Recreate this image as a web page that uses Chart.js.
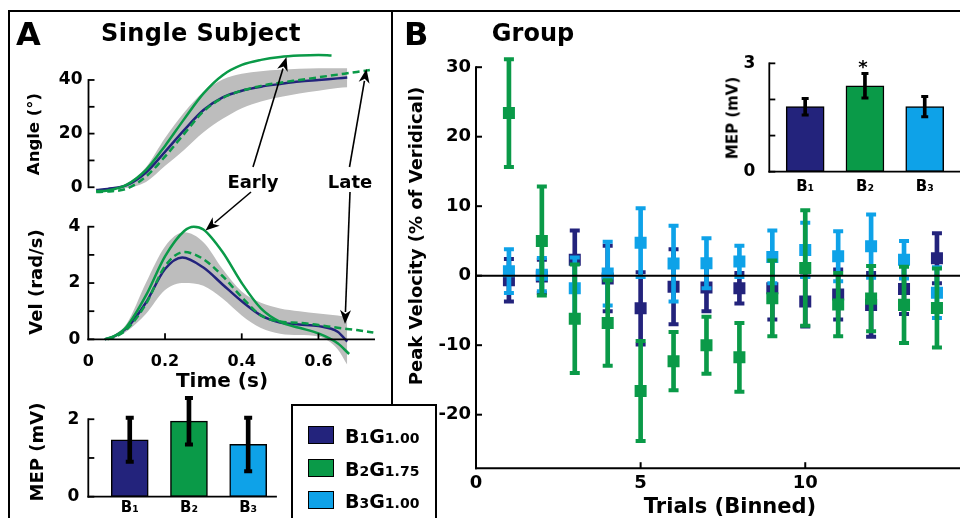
<!DOCTYPE html>
<html>
<head>
<meta charset="utf-8">
<script src="https://cdn.jsdelivr.net/npm/chart.js@4.4.1/dist/chart.umd.min.js"></script>
<style>
  html, body { margin: 0; padding: 0; background: #fff; }
  #fig { position: relative; width: 960px; height: 518px; overflow: hidden;
         font-family: "DejaVu Sans", sans-serif; font-weight: bold; color: #000; }
  canvas { position: absolute; }
  .txt { position: absolute; white-space: nowrap; line-height: 1; z-index: 5; }
  .rot { transform: translate(-50%, -50%) rotate(-90deg); }
  .ctr { transform: translate(-50%, -50%); }
  .hc  { transform: translateX(-50%); }
  .ln  { position: absolute; background: #000; z-index: 4; }
  #legendBox { position: absolute; left: 291px; top: 404px; width: 146px; height: 130px;
               border: 2px solid #000; box-sizing: border-box; background: #fff; z-index: 3; }
  .sw { position: absolute; width: 26px; height: 18px; border: 1.5px solid #000; box-sizing: border-box; z-index: 6; }
  .lt { position: absolute; white-space: nowrap; line-height: 19px; z-index: 6; }
  .lt .big { font-size: 19px; }
  .lt .sm { font-size: 14px; }
  #arrows { position: absolute; left: 0; top: 0; z-index: 7; }
</style>
</head>
<body>
<div id="fig">
  <canvas id="cAngle" width="390" height="160" style="left:0;top:40px"></canvas>
  <canvas id="cVel" width="390" height="175" style="left:0;top:200px"></canvas>
  <canvas id="cMepA" width="290" height="128" style="left:0;top:390px"></canvas>
  <canvas id="cGroup" width="568" height="478" style="left:392px;top:40px"></canvas>
  <canvas id="cMepB" width="280" height="170" style="left:680px;top:30px"></canvas>

  <div class="ln" style="left:8px;top:10px;width:952px;height:2px"></div>
  <div class="ln" style="left:8px;top:10px;width:2px;height:508px"></div>
  <div class="ln" style="left:391px;top:10px;width:2px;height:396px"></div>
  <div id="legendBox"></div>
  <div id="legendRows"></div>

  <div class="txt" style="left:16px;top:18px;font-size:32px">A</div>
  <div class="txt hc" style="left:201px;top:21px;font-size:24px;letter-spacing:0.4px">Single Subject</div>
  <div class="txt" style="left:404px;top:18px;font-size:32px">B</div>
  <div class="txt hc" style="left:533px;top:21px;font-size:24px">Group</div>

  <div class="txt rot" style="left:34px;top:134px;font-size:16.5px">Angle (°)</div>
  <div class="txt rot" style="left:36px;top:282px;font-size:18px">Vel (rad/s)</div>
  <div class="txt ctr" style="left:222px;top:380px;font-size:20px">Time (s)</div>
  <div class="txt rot" style="left:37px;top:452px;font-size:18px">MEP (mV)</div>
  <div class="txt ctr" style="left:253px;top:182px;font-size:18px">Early</div>
  <div class="txt ctr" style="left:350px;top:182px;font-size:18px">Late</div>

  <div class="txt rot" style="left:416px;top:236px;font-size:18px">Peak Velocity (% of Veridical)</div>
  <div class="txt ctr" style="left:730px;top:506px;font-size:21px">Trials (Binned)</div>
  <div class="txt rot" style="left:733px;top:118px;font-size:15px">MEP (mV)</div>
  <div class="txt hc" style="left:863px;top:58px;font-size:18px">*</div>

  <svg id="arrows" width="960" height="518"></svg>
</div>

<script>
// ---------- colours ----------
const NAVY = "#23237c";
const GREEN = "#0a9a48";
const LIGHT = "#0ea2e8";
const GRAY = "#bdbdbd";

// ---------- panel A : single subject kinematics ----------
const angleTime     = [0.02, 0.05, 0.1, 0.15, 0.2, 0.25, 0.3, 0.35, 0.4, 0.45, 0.5, 0.55, 0.6, 0.65, 0.675];
const angleB1       = [-1.0, -0.6, 0.8, 5.5, 13.3, 21.4, 28.8, 33.5, 36.0, 37.5, 38.5, 39.4, 40.0, 40.6, 40.9];
const angleBandTime = [0.05, 0.1, 0.15, 0.2, 0.25, 0.3, 0.35, 0.4, 0.45, 0.5, 0.55, 0.6, 0.65, 0.675];
const angleBandHi   = [-0.3, 1.5, 7.5, 18.5, 28.0, 35.5, 40.2, 42.3, 43.3, 43.8, 44.2, 44.4, 44.4, 44.4];
const angleBandLo   = [-0.8, -0.3, 2.0, 8.0, 14.0, 20.5, 25.5, 29.5, 32.0, 33.7, 35.0, 36.0, 37.0, 37.3];
const earlyAngleTime = [0.02, 0.05, 0.1, 0.15, 0.2, 0.25, 0.3, 0.35, 0.4, 0.45, 0.5, 0.55, 0.6, 0.634];
const earlyAngle     = [-1.5, -1.2, 1.0, 6.5, 15.5, 25.5, 35.0, 41.8, 45.6, 47.5, 48.6, 49.1, 49.3, 49.1];
const lateAngleTime  = [0.02, 0.05, 0.1, 0.15, 0.2, 0.25, 0.3, 0.35, 0.4, 0.45, 0.5, 0.55, 0.6, 0.65, 0.7, 0.734];
const lateAngle      = [-1.8, -1.6, -0.5, 4.0, 11.5, 20.0, 28.3, 33.3, 36.0, 37.8, 39.0, 40.0, 41.0, 42.0, 43.0, 43.7];

const velTime     = [0.043, 0.07, 0.1, 0.15, 0.2, 0.245, 0.3, 0.35, 0.4, 0.45, 0.5, 0.55, 0.6, 0.65, 0.675];
const velB1       = [0, 0.12, 0.4, 1.3, 2.5, 2.91, 2.55, 1.95, 1.35, 0.85, 0.6, 0.53, 0.47, 0.27, -0.08];
const velBandTime = [0.06, 0.1, 0.15, 0.2, 0.25, 0.3, 0.35, 0.4, 0.45, 0.5, 0.55, 0.6, 0.65, 0.675];
const velBandHi   = [0.08, 0.55, 2.0, 3.3, 3.8, 3.45, 2.5, 1.7, 1.3, 1.1, 1.0, 0.92, 0.85, 0.8];
const velBandLo   = [0.0, 0.28, 0.9, 1.75, 2.0, 1.9, 1.45, 0.85, 0.4, 0.2, 0.15, 0.1, -0.35, -0.9];
const earlyVelTime = [0.043, 0.07, 0.1, 0.15, 0.2, 0.25, 0.275, 0.3, 0.35, 0.4, 0.45, 0.5, 0.55, 0.6, 0.65, 0.68];
const earlyVel     = [0, 0.13, 0.45, 1.55, 2.95, 3.85, 4.0, 3.9, 3.1, 2.0, 1.1, 0.62, 0.41, 0.21, -0.14, -0.52];
const lateVelTime  = [0.05, 0.075, 0.1, 0.15, 0.2, 0.25, 0.3, 0.35, 0.4, 0.45, 0.5, 0.55, 0.6, 0.65, 0.7, 0.743];
const lateVel      = [0, 0.12, 0.35, 1.25, 2.6, 3.1, 2.85, 2.25, 1.5, 0.85, 0.63, 0.59, 0.51, 0.41, 0.33, 0.24];

const angleYTicks = [0, 10, 20, 30, 40];
const angleYLabeled = [0, 20, 40];
const velYTicks = [0, 1, 2, 3, 4];
const velYLabeled = [0, 2, 4];
const timeTicks = [0, 0.2, 0.4, 0.6];

// ---------- MEP bars ----------
const mepPos = [1, 2, 3];
const mepLabels = ["B\u2081", "B\u2082", "B\u2083"];
const mepColors = [NAVY, GREEN, LIGHT];
const mepSingle = [1.47, 1.95, 1.35];
const mepSingleErr = [0.57, 0.6, 0.69];
const mepGroup = [1.8, 2.38, 1.8];
const mepGroupErr = [0.23, 0.34, 0.28];

// ---------- panel B : group peak velocity ----------
const trials = [1, 2, 3, 4, 5, 6, 7, 8, 9, 10, 11, 12, 13, 14];
const b1Mean = [-0.65, -0.1, 2.3, -0.4, -4.7, -1.6, -1.7, -1.8, -1.8, -3.7, -2.7, -4.2, -1.9, 2.5];
const b1Err  = [3.05, 2.4, 4.2, 4.7, 5.2, 5.4, 3.4, 2.2, 4.5, 3.6, 3.6, 4.6, 3.6, 3.6];
const b2Mean = [23.4, 5.0, -6.2, -6.8, -16.6, -12.3, -10.0, -11.75, -3.25, 1.1, -4.15, -3.3, -4.2, -4.65];
const b2Err  = [7.75, 7.85, 7.8, 6.15, 7.2, 4.2, 4.1, 4.95, 5.45, 8.3, 4.55, 4.7, 5.5, 5.7];
const b3Mean = [0.65, 0.15, -1.8, 0.3, 4.75, 1.75, 1.8, 2.05, 2.7, 3.7, 2.8, 4.25, 2.3, -2.45];
const b3Err  = [3.15, 2.4, 4.4, 4.6, 4.95, 5.45, 3.6, 2.25, 3.8, 3.9, 3.6, 4.55, 2.7, 3.65];
const groupXTicks = [0, 5, 10];
const groupYTicks = [-20, -10, 0, 10, 20, 30];
const mepAYTicks = [0, 1, 2];
const mepAYLabeled = [0, 2];
const mepBYTicks = [0, 1, 2, 3];
const mepBYLabeled = [0, 3];

const legendBlocks = ["1", "2", "3"];
const legendGains = ["1.00", "1.75", "1.00"];

// ---------- helpers ----------
Chart.defaults.font.family = '"DejaVu Sans", sans-serif';
Chart.defaults.font.weight = "bold";
Chart.defaults.color = "#000";

// MATLAB-like axes: line plus inward tick marks
const inwardAxes = {
  id: "inwardAxes",
  afterDatasetsDraw(chart, args, o) {
    const { ctx, scales: { x, y } } = chart;
    const len = o.tick || 6;
    const seg = (x1, y1, x2, y2) => { ctx.beginPath(); ctx.moveTo(x1, y1); ctx.lineTo(x2, y2); ctx.stroke(); };
    ctx.save();
    ctx.strokeStyle = "#000";
    ctx.lineWidth = o.width || 2;
    if (o.zero) {
      const py = y.getPixelForValue(0);
      seg(x.left, py, x.right, py);
    }
    ctx.lineCap = "square";
    if (o.yAxis) {
      const px = x.getPixelForValue(o.yAxis.at);
      seg(px, y.getPixelForValue(o.yAxis.from), px, y.getPixelForValue(o.yAxis.to));
      ctx.lineCap = "butt";
      o.yAxis.ticks.forEach(v => { const py = y.getPixelForValue(v); seg(px, py, px + len, py); });
    }
    ctx.lineCap = "square";
    if (o.xAxis) {
      const py = y.getPixelForValue(o.xAxis.at);
      seg(x.getPixelForValue(o.xAxis.from), py, x.getPixelForValue(o.xAxis.to), py);
      ctx.lineCap = "butt";
      o.xAxis.ticks.forEach(v => { const px = x.getPixelForValue(v); seg(px, py, px, py - len); });
    }
    ctx.restore();
  }
};

function axis(min, max, ticks, label, size, pad, fit) {
  return {
    type: "linear", min, max, offset: false,
    grid: { display: false, drawTicks: false, offset: false },
    border: { display: false },
    afterBuildTicks: s => { s.ticks = ticks.map(v => ({ value: v })); },
    afterFit: s => {
      fit(s);
      s.paddingTop = 0; s.paddingBottom = 0; s.paddingLeft = 0; s.paddingRight = 0;
    },
    ticks: { callback: label, padding: pad, font: { size }, autoSkip: false, maxRotation: 0 }
  };
}

function curve(xs, ys, extra) {
  return Object.assign({
    data: xs.map((x, i) => ({ x, y: ys[i] })),
    borderWidth: 2.5, pointRadius: 0, fill: false, cubicInterpolationMode: "monotone"
  }, extra);
}

function pad(top, right, bottom) {
  return { autoPadding: false, padding: { top, right, bottom, left: 0 } };
}

const common = { responsive: false, animation: false, events: [] };
const noLegend = { legend: { display: false }, tooltip: { enabled: false } };

// ---------- angle ----------
new Chart(document.getElementById("cAngle"), {
  type: "line",
  data: { datasets: [
    curve(angleBandTime, angleBandHi, { borderWidth: 0, order: 5 }),
    curve(angleBandTime, angleBandLo, { borderWidth: 0, order: 5, fill: "-1", backgroundColor: GRAY }),
    curve(angleTime, angleB1, { borderColor: NAVY, order: 3 }),
    curve(lateAngleTime, lateAngle, { borderColor: GREEN, borderDash: [7, 4], order: 2 }),
    curve(earlyAngleTime, earlyAngle, { borderColor: GREEN, order: 1 })
  ] },
  options: Object.assign({}, common, {
    layout: pad(7.8, 14, 4.7),
    scales: {
      x: { type: "linear", min: 0, max: 0.75, display: false, offset: false },
      y: axis(-3, 52, angleYTicks, v => angleYLabeled.includes(v) ? String(v) : "", 17, 6, s => { s.width = 88.5; })
    },
    plugins: Object.assign({}, noLegend, {
      inwardAxes: { width: 1.8, yAxis: { at: 0, from: 0, to: 40, ticks: angleYTicks } }
    })
  }),
  plugins: [inwardAxes]
});

// ---------- velocity ----------
new Chart(document.getElementById("cVel"), {
  type: "line",
  data: { datasets: [
    curve(velBandTime, velBandHi, { borderWidth: 0, order: 5 }),
    curve(velBandTime, velBandLo, { borderWidth: 0, order: 5, fill: "-1", backgroundColor: GRAY }),
    curve(velTime, velB1, { borderColor: NAVY, order: 3 }),
    curve(lateVelTime, lateVel, { borderColor: GREEN, borderDash: [7, 4], order: 2 }),
    curve(earlyVelTime, earlyVel, { borderColor: GREEN, order: 1 })
  ] },
  options: Object.assign({}, common, {
    layout: pad(21.1, 14, 7.5),
    scales: {
      x: Object.assign(axis(0, 0.75, timeTicks, v => v === 0 ? "0" : v.toFixed(1), 16, 13, s => { s.height = 0; }),
                       { position: { y: 0 } }),
      y: axis(-1, 4.2, velYTicks, v => velYLabeled.includes(v) ? String(v) : "", 17, 8, s => { s.width = 88.3; })
    },
    plugins: Object.assign({}, noLegend, {
      inwardAxes: { width: 1.8,
        yAxis: { at: 0, from: 0, to: 4, ticks: velYTicks },
        xAxis: { at: 0, from: 0, to: 0.745, ticks: timeTicks.slice(1) } }
    })
  }),
  plugins: [inwardAxes]
});

// ---------- MEP bar charts ----------
function mepChart(id, means, errs, opt) {
  return new Chart(document.getElementById(id), {
    type: "bar",
    data: { datasets: [
      { data: mepPos.map((x, i) => ({ x, y: means[i] })), backgroundColor: mepColors,
        borderColor: "#000", borderWidth: 1.5, borderSkipped: false, grouped: false,
        barThickness: opt.barW, maxBarThickness: opt.barW, order: 3 },
      { data: mepPos.map((x, i) => ({ x, y: [means[i] - errs[i], means[i] + errs[i]] })),
        backgroundColor: "#000", borderWidth: 0, grouped: false,
        barThickness: opt.errW, maxBarThickness: opt.errW, order: 2 },
      { type: "scatter", data: mepPos.flatMap((x, i) => [{ x, y: means[i] - errs[i] }, { x, y: means[i] + errs[i] }]),
        pointStyle: "line", pointRadius: opt.cap, pointBorderWidth: opt.errW, pointBorderColor: "#000", order: 1 }
    ] },
    options: Object.assign({}, common, {
      layout: pad(opt.top, opt.right, 0),
      scales: {
        x: axis(opt.xmin, opt.xmax, mepPos, v => mepLabels[mepPos.indexOf(v)], 15, opt.xPad, s => { s.height = opt.xH; }),
        y: axis(0, opt.ymax, opt.yTicks, v => opt.yLab.includes(v) ? String(v) : "", 17, opt.yPad, s => { s.width = opt.yW; })
      },
      plugins: Object.assign({}, noLegend, {
        inwardAxes: { width: 1.8,
          yAxis: { at: opt.xmin, from: 0, to: opt.yTicks[opt.yTicks.length - 1], ticks: opt.yTicks },
          xAxis: { at: 0, from: opt.xmin, to: opt.xmax, ticks: [] } }
      })
    }),
    plugins: [inwardAxes]
  });
}

mepChart("cMepA", mepSingle, mepSingleErr, {
  barW: 37, errW: 4, cap: 4, xmin: 0.3, xmax: 3.47, ymax: 2.6,
  top: 6, right: 14, xH: 21.3, yW: 88.3, xPad: 2, yPad: 9,
  yTicks: mepAYTicks, yLab: mepAYLabeled
});

mepChart("cMepB", mepGroup, mepGroupErr, {
  barW: 38, errW: 3, cap: 3.5, xmin: 0.4, xmax: 3.59, ymax: 3.4,
  top: 18.9, right: 0, xH: 28.3, yW: 89.3, xPad: 6, yPad: 14,
  yTicks: mepBYTicks, yLab: mepBYLabeled
});

// ---------- group peak velocity ----------
function seriesSets(means, errs, color, base) {
  return [
    { type: "bar", data: trials.map((x, i) => ({ x, y: [means[i] - errs[i], means[i] + errs[i]] })),
      backgroundColor: color, borderWidth: 0, grouped: false, barThickness: 4, maxBarThickness: 4, order: base + 3 },
    { type: "scatter", data: trials.flatMap((x, i) => [{ x, y: means[i] - errs[i] }, { x, y: means[i] + errs[i] }]),
      pointStyle: "line", pointRadius: 5, pointBorderWidth: 4, pointBorderColor: color, order: base + 2 },
    { type: "scatter", data: trials.map((x, i) => ({ x, y: means[i] })),
      pointStyle: "rect", pointRadius: 8.5, pointBackgroundColor: color, pointBorderWidth: 0, order: base + 1 }
  ];
}

new Chart(document.getElementById("cGroup"), {
  type: "bar",
  data: { datasets: [
    ...seriesSets(b1Mean, b1Err, NAVY, 30),
    ...seriesSets(b3Mean, b3Err, LIGHT, 20),
    ...seriesSets(b2Mean, b2Err, GREEN, 10)
  ] },
  options: Object.assign({}, common, {
    layout: pad(13.3, 0, 0),
    scales: {
      x: axis(0, 14.7, groupXTicks, v => String(v), 18, 4, s => { s.height = 49.8; }),
      y: axis(-27.7, 32, groupYTicks, v => String(v), 18, 5, s => { s.width = 84; })
    },
    plugins: Object.assign({}, noLegend, {
      inwardAxes: { width: 2, zero: true,
        yAxis: { at: 0, from: -27.7, to: 30, ticks: groupYTicks },
        xAxis: { at: -27.7, from: 0, to: 14.7, ticks: groupXTicks.slice(1) } }
    })
  }),
  plugins: [inwardAxes]
});

// ---------- legend ----------
const rows = document.getElementById("legendRows");
legendBlocks.forEach((b, i) => {
  const top = 426 + i * 32.5;
  const sw = document.createElement("div");
  sw.className = "sw";
  sw.style.left = "308px";
  sw.style.top = top + "px";
  sw.style.background = mepColors[i];
  rows.appendChild(sw);
  const t = document.createElement("div");
  t.className = "lt";
  t.style.left = "345px";
  t.style.top = (top + 1) + "px";
  t.innerHTML = '<span class="big">B</span><span class="sm">' + b + '</span><span class="big">G</span><span class="sm">' + legendGains[i] + '</span>';
  rows.appendChild(t);
});

// ---------- annotation arrows (Early / Late) ----------
const arrowSegs = [[253, 167, 286.5, 57], [251, 192, 205.5, 230.5], [349.5, 167, 366.5, 69], [350, 192, 345, 324]];
const svg = document.getElementById("arrows");
let svgHtml = "";
arrowSegs.forEach(([x1, y1, x2, y2]) => {
  const dx = x2 - x1, dy = y2 - y1, L = Math.hypot(dx, dy);
  const ux = dx / L, uy = dy / L, hl = 14, hw = 5.5;
  const bx = x2 - ux * hl, by = y2 - uy * hl;
  svgHtml += `<line x1="${x1}" y1="${y1}" x2="${bx + ux * 2}" y2="${by + uy * 2}" stroke="#000" stroke-width="1.6"/>`;
  svgHtml += `<polygon points="${x2},${y2} ${bx - uy * hw},${by + ux * hw} ${bx + ux * 4},${by + uy * 4} ${bx + uy * hw},${by - ux * hw}" fill="#000"/>`;
});
svg.innerHTML = svgHtml;
</script>
</body>
</html>
